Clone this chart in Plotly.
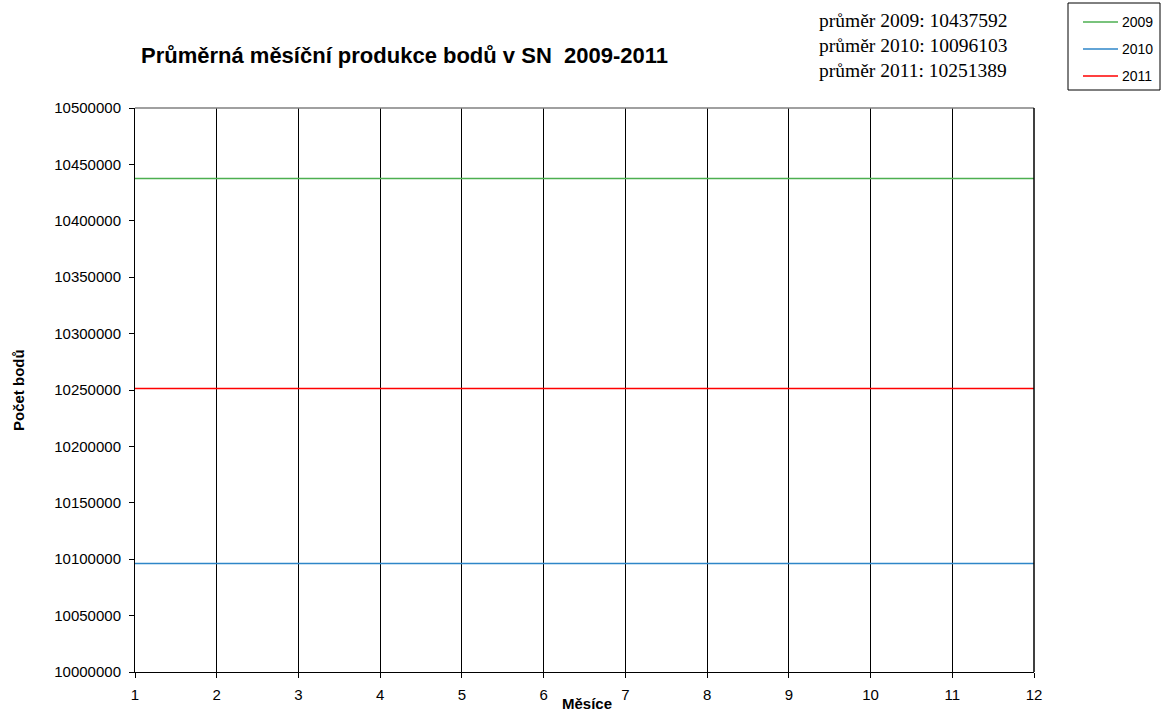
import plotly.graph_objects as go

# Months and monthly average point production per year
months = [1, 2, 3, 4, 5, 6, 7, 8, 9, 10, 11, 12]
years = ["2009", "2010", "2011"]
averages = [10437592, 10096103, 10251389]
colors = ["#4caf50", "#2e86c8", "#ff0000"]
y_ticks = [10000000, 10050000, 10100000, 10150000, 10200000, 10250000,
           10300000, 10350000, 10400000, 10450000, 10500000]

# Plot area in pixels (left, right, top, bottom)
W, H = 1163, 713
L, R, T, B = 135, 1034, 108, 672
PW, PH = R - L, B - T


def px(x):
    return (x - L) / PW


def py(y):
    return (B - y) / PH


fig = go.Figure()
for yr, avg, col in zip(years, averages, colors):
    fig.add_trace(go.Scatter(
        x=months, y=[avg] * len(months), mode="lines", name=yr,
        line=dict(color=col, width=1.5), showlegend=False,
    ))

font_sans = "Liberation Sans, Arial, sans-serif"
font_serif = "Liberation Serif, Times New Roman, serif"

fig.update_layout(
    width=W, height=H,
    margin=dict(l=L, r=W - R, t=T, b=H - B, autoexpand=False),
    paper_bgcolor="white", plot_bgcolor="white",
    font=dict(family=font_sans, color="black", size=15),
    xaxis=dict(
        range=[1, 12], tickmode="array", tickvals=months,
        showgrid=True, gridcolor="black", gridwidth=1,
        showline=True, linecolor="black", linewidth=1,
        ticks="outside", ticklen=5, tickcolor="black",
        zeroline=False, tickfont=dict(size=15), ticklabelstandoff=4,
    ),
    yaxis=dict(
        range=[10000000, 10500000], tickmode="array", tickvals=y_ticks,
        ticktext=[str(v) for v in y_ticks],
        showgrid=False, showline=True, linecolor="black", linewidth=1,
        ticks="outside", ticklen=5, tickcolor="black",
        zeroline=False, tickfont=dict(size=15), ticklabelstandoff=5,
    ),
)

# Frame: grey top edge, dark right edge
fig.add_shape(type="line", xref="paper", yref="paper", x0=0, x1=1, y0=1, y1=1,
              line=dict(color="#808080", width=1.5))
fig.add_shape(type="line", xref="paper", yref="paper", x0=1, x1=1, y0=0, y1=1,
              line=dict(color="black", width=1.5))

# Title
fig.add_annotation(
    text="<b>Průměrná měsíční produkce bodů v SN  2009-2011</b>",
    xref="paper", yref="paper", x=px(404), y=py(56),
    xanchor="center", yanchor="middle", showarrow=False,
    font=dict(size=22, family=font_sans),
)

# Yearly averages
for i, (yr, avg) in enumerate(zip(years, averages)):
    fig.add_annotation(
        text=f"průměr {yr}: {avg}",
        xref="paper", yref="paper", x=px(817), y=py(20 + 25 * i),
        xanchor="left", yanchor="middle", showarrow=False,
        font=dict(size=19.5, family=font_serif),
    )

# Legend box with line samples
fig.add_shape(type="rect", xref="paper", yref="paper",
              x0=px(1068), x1=px(1160), y0=py(90), y1=py(3),
              line=dict(color="black", width=1), fillcolor="white")
for i, (yr, col) in enumerate(zip(years, colors)):
    yy = 22 + 27 * i
    fig.add_shape(type="line", xref="paper", yref="paper",
                  x0=px(1083), x1=px(1118), y0=py(yy), y1=py(yy),
                  line=dict(color=col, width=1.5))
    fig.add_annotation(
        text=yr, xref="paper", yref="paper", x=px(1120), y=py(yy),
        xanchor="left", yanchor="middle", showarrow=False,
        font=dict(size=14, family=font_sans),
    )

# Axis titles
fig.add_annotation(
    text="<b>Měsíce</b>", xref="paper", yref="paper",
    x=px(587), y=py(703),
    xanchor="center", yanchor="middle", showarrow=False,
    font=dict(size=15, family=font_sans),
)
fig.add_annotation(
    text="<b>Počet bodů</b>", xref="paper", yref="paper",
    x=px(18), y=py(390), textangle=-90,
    xanchor="center", yanchor="middle", showarrow=False,
    font=dict(size=15, family=font_sans),
)

fig.write_html("out.html")
